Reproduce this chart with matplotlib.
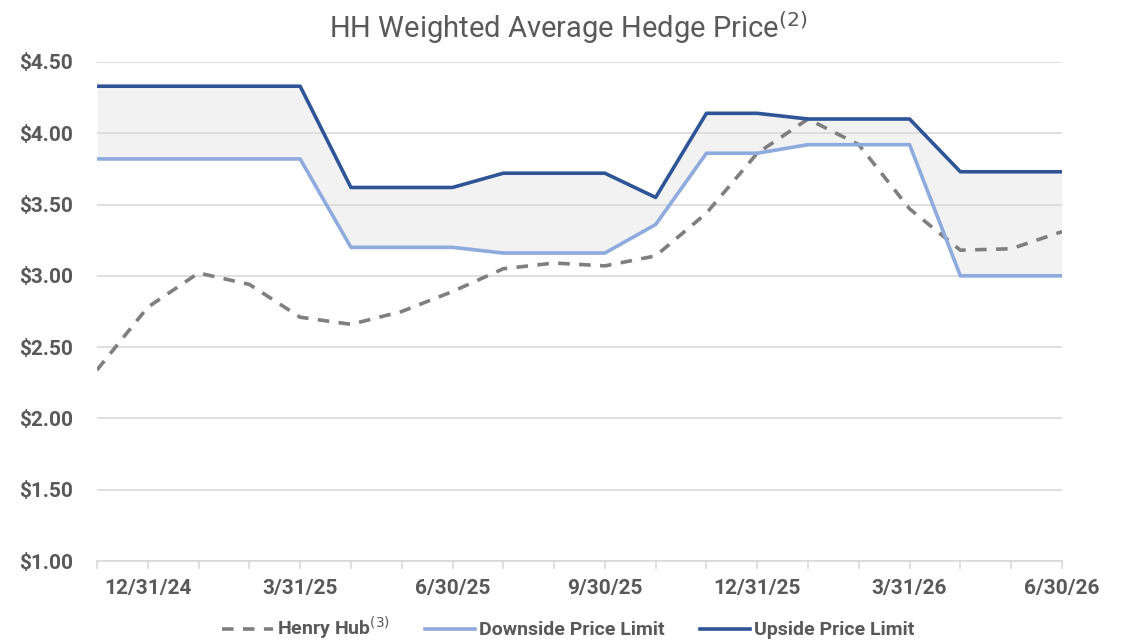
import numpy as np
import matplotlib
matplotlib.use("Agg")
import matplotlib.pyplot as plt

plt.rcParams['font.family'] = ['Roboto', 'DejaVu Sans']

# monthly dates, 11/30/24 .. 6/30/26
dates = ['11/30/24', '12/31/24', '1/31/25', '2/28/25', '3/31/25', '4/30/25',
         '5/31/25', '6/30/25', '7/31/25', '8/31/25', '9/30/25', '10/31/25',
         '11/30/25', '12/31/25', '1/31/26', '2/28/26', '3/31/26', '4/30/26',
         '5/31/26', '6/30/26']
henry_hub = [2.34, 2.78, 3.02, 2.94, 2.71, 2.66, 2.75, 2.89, 3.05, 3.09,
             3.07, 3.14, 3.44, 3.86, 4.10, 3.92, 3.47, 3.18, 3.19, 3.31]
downside = [3.82, 3.82, 3.82, 3.82, 3.82, 3.20, 3.20, 3.20, 3.16, 3.16,
            3.16, 3.36, 3.86, 3.86, 3.92, 3.92, 3.92, 3.00, 3.00, 3.00]
upside = [4.33, 4.33, 4.33, 4.33, 4.33, 3.62, 3.62, 3.62, 3.72, 3.72,
          3.72, 3.55, 4.14, 4.14, 4.10, 4.10, 4.10, 3.73, 3.73, 3.73]
quarter_ends = ['12/31/24', '3/31/25', '6/30/25', '9/30/25', '12/31/25', '3/31/26', '6/30/26']

x = np.arange(len(dates))
txt = '#595959'

fig = plt.figure(figsize=(11.37, 6.43), dpi=100)
ax = fig.add_axes([0.0853, 0.1275, 0.8487, 0.7761])

ax.fill_between(x, downside, upside, color='#F2F2F2', lw=0, zorder=1)
ax.plot(x, henry_hub, color='#7F7F7F', lw=2.6, ls=(0, (3.2, 2.6)), zorder=3,
        label='Henry Hub$^{(3)}$')
ax.plot(x, downside, color='#8FAADC', lw=2.6, zorder=4, label='Downside Price Limit')
ax.plot(x, upside, color='#2F5597', lw=2.6, zorder=5, label='Upside Price Limit')

ax.set_xlim(0, len(dates) - 1)
ax.set_ylim(1.0, 4.5)
ax.set_yticks(np.arange(1.0, 4.51, 0.5))
ax.set_yticklabels(['${:.2f}'.format(v) for v in np.arange(1.0, 4.51, 0.5)])
ax.set_xticks(x)
ax.set_xticklabels([d if d in quarter_ends else '' for d in dates])

ax.grid(axis='y', color='#D9D9D9', lw=1.2, zorder=0)
for s in ['top', 'right', 'left']:
    ax.spines[s].set_visible(False)
ax.spines['bottom'].set_color('#D9D9D9')
ax.spines['bottom'].set_linewidth(1.2)
ax.tick_params(axis='y', length=0, pad=17, labelsize=15, labelcolor=txt)
ax.tick_params(axis='x', length=6, color='#D9D9D9', width=1.2, pad=7,
               labelsize=15, labelcolor=txt)
for lbl in ax.get_yticklabels() + ax.get_xticklabels():
    lbl.set_fontweight('bold')

fig.suptitle('HH Weighted Average Hedge Price$^{(2)}$', x=0.5, y=0.985,
             fontsize=21, color=txt)

leg = fig.legend(loc='center', bbox_to_anchor=(0.5, 0.023), ncol=3, frameon=False,
                 fontsize=14, handlelength=2.6, handletextpad=0.2, columnspacing=1.8)
for t in leg.get_texts():
    t.set_color(txt)
    t.set_fontweight('bold')

fig.savefig('out.png', dpi=100)
